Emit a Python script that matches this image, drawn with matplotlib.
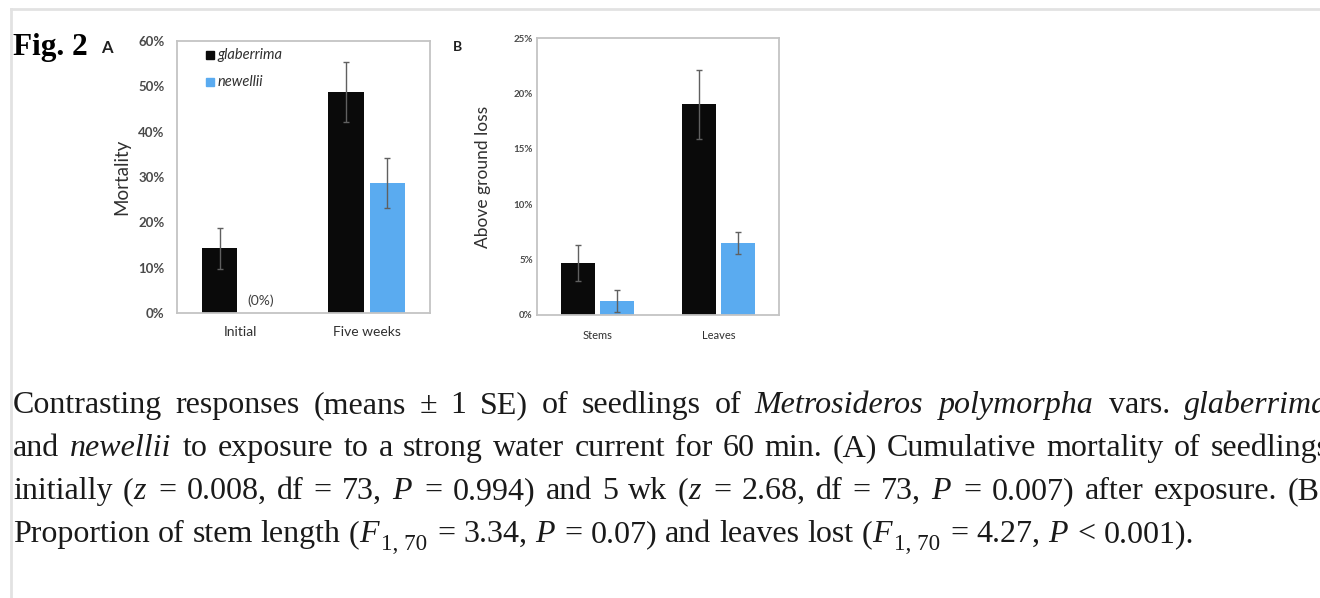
import re
import matplotlib
matplotlib.use("Agg")
import matplotlib.pyplot as plt
from matplotlib.lines import Line2D
from matplotlib.transforms import IdentityTransform
import numpy as np

# panel A: cumulative mortality (%)
mort_cats = ["Initial", "Five weeks"]
mort_glab = [14.3, 48.7]
mort_glab_se = [4.5, 6.6]
mort_new = [0.0, 28.7]
mort_new_se = [0.0, 5.6]
mort_ticks = [0, 10, 20, 30, 40, 50, 60]

# panel B: above ground loss (%)
loss_cats = ["Stems", "Leaves"]
loss_glab = [4.7, 19.0]
loss_glab_se = [1.6, 3.1]
loss_new = [1.3, 6.5]
loss_new_se = [1.0, 0.95]
loss_ticks = [0, 5, 10, 15, 20, 25]

series_names = ["glaberrima", "newellii"]

# caption, *italic*, ~subscript~
caption = [
    "Contrasting responses (means ± 1 SE) of seedlings of *Metrosideros* *polymorpha* vars. *glaberrima*",
    "and *newellii* to exposure to a strong water current for 60 min. (A) Cumulative mortality of seedlings",
    "initially (*z* = 0.008, df = 73, *P* = 0.994) and 5 wk (*z* = 2.68, df = 73, *P* = 0.007) after exposure. (B)",
    "Proportion of stem length (*F*~1,\u00a070~ = 3.34, *P* = 0.07) and leaves lost (*F*~1,\u00a070~ = 4.27, *P* < 0.001).",
]

W, H = 1320, 598
BLACK = "#0a0a0a"
BLUE = "#5aabf0"
SANS = ["Lato", "DejaVu Sans"]
SERIF = ["Liberation Serif", "DejaVu Serif"]

fig = plt.figure(figsize=(W / 100, H / 100), dpi=100)
fig.patch.set_facecolor("white")


def px(x, y, w, h):
    # pixel box (top-left origin) -> figure fraction
    return [x / W, 1 - (y + h) / H, w / W, h / H]


def bar_panel(ax, cats, glab, glab_se, new, new_se, ticks, tsize, csize_, ylabel, lsize, ypad, xpad):
    x = np.arange(len(cats))
    bw, off = 0.28, 0.163
    ax.bar(x - off, glab, bw, color=BLACK, zorder=2)
    ax.bar(x + off, new, bw, color=BLUE, zorder=2)
    ekw = dict(fmt="none", ecolor="#606060", elinewidth=1.0, capsize=2.5, capthick=1.0, zorder=3)
    for xs, v, e in [(x - off, glab, glab_se), (x + off, new, new_se)]:
        keep = [i for i in range(len(v)) if e[i] > 0]
        ax.errorbar(xs[keep], np.array(v)[keep], yerr=np.array(e)[keep], **ekw)
    ax.set_xlim(-0.5, 1.5)
    ax.set_ylim(0, ticks[-1])
    ax.set_yticks(ticks)
    ax.set_yticklabels([f"{t}%" for t in ticks], fontsize=tsize, family=SANS,
                       fontweight="bold", color="#4a4a4a")
    ax.set_xticks(x)
    ax.set_xticklabels(cats, fontsize=csize_, family=SANS, color="#303030")
    ax.tick_params(length=0, axis="y", pad=ypad)
    ax.tick_params(length=0, axis="x", pad=xpad)
    for s in ax.spines.values():
        s.set_color("#c4c4c4")
        s.set_linewidth(1.3)
    ax.set_ylabel(ylabel, fontsize=lsize, family=SANS, color="#303030")


axA = fig.add_axes(px(177, 41, 253, 272))
bar_panel(axA, mort_cats, mort_glab, mort_glab_se, mort_new, mort_new_se,
          mort_ticks, 9.5, 10, "Mortality", 13.5, 9, 9)
axA.yaxis.set_label_coords(-0.186, 0.5)
axA.text(0.163, 2.7, "(0%)", ha="center", va="center", fontsize=10,
         family=SANS, color="#404040")
# legend
for i, (name, c) in enumerate(zip(series_names, [BLACK, BLUE])):
    yy = 0.948 - i * 0.1
    axA.plot([0.13], [yy], marker="s", ms=6, color=c, transform=axA.transAxes, clip_on=False)
    axA.text(0.16, yy, name, transform=axA.transAxes, fontsize=10.5, style="italic",
             family=SANS, color="#303030", va="center", ha="left")

axB = fig.add_axes(px(537, 38, 242, 277))
bar_panel(axB, loss_cats, loss_glab, loss_glab_se, loss_new, loss_new_se,
          loss_ticks, 7, 8, "Above ground loss", 12.5, 3, 11)
axB.yaxis.set_label_coords(-0.19, 0.5)

fig.text(107 / W, 1 - 48 / H, "A", fontsize=12, fontweight="bold", family=SANS,
         ha="center", va="center", color="#202020")
fig.text(457 / W, 1 - 47 / H, "B", fontsize=10, fontweight="bold", family=SANS,
         ha="center", va="center", color="#202020")
fig.text(13 / W, 1 - 55 / H, "Fig. 2", fontsize=22.5, fontweight="bold", family=SERIF,
         ha="left", va="baseline", color="black")

# page frame lines
fig.add_artist(Line2D([11 / W, 1], [1 - 9 / H, 1 - 9 / H], color="#e2e2e2", lw=2))
fig.add_artist(Line2D([11 / W, 11 / W], [0, 1 - 9 / H], color="#e2e2e2", lw=2))

# caption, justified like the source page
csize = 23
cpx = csize * 100 / 72
renderer = fig.canvas.get_renderer()
ident = IdentityTransform()


def parse_word(word):
    segs = []
    for part in re.split(r"(\*[^*]+\*|~[^~]+~)", word):
        if not part:
            continue
        if part.startswith("*"):
            segs.append((part[1:-1], "i"))
        elif part.startswith("~"):
            segs.append((part[1:-1], "sub"))
        else:
            segs.append((part, "r"))
    return segs


def make_word(segs, baseline):
    arts = []
    for txt, st in segs:
        kw = dict(family=SERIF, color="#1a1a1a", va="baseline", ha="left", transform=ident)
        if st == "sub":
            t = fig.text(0, baseline - 0.26 * cpx, txt, fontsize=csize * 0.72, **kw)
            w = t.get_window_extent(renderer).width + 2
        else:
            t = fig.text(0, baseline, txt, fontsize=csize,
                         style="italic" if st == "i" else "normal", **kw)
            w = t.get_window_extent(renderer).width
            if st == "i":
                w += 2
        arts.append((t, w))
    return arts


x_left = 13
right_edge = 1330
space = 0.25 * cpx
baselines = [413, 456, 499, 542]
for li, line in enumerate(caption):
    yb = H - baselines[li]
    words = [make_word(parse_word(w), yb) for w in line.split(" ")]
    widths = [sum(w for _, w in wd) for wd in words]
    if li < len(caption) - 1:
        gap = (right_edge - x_left - sum(widths)) / (len(words) - 1)
    else:
        gap = space
    xc = x_left
    for wd, ww in zip(words, widths):
        xs = xc
        for t, w in wd:
            t.set_x(xs)
            xs += w
        xc += ww + gap

fig.savefig("out.png", dpi=100, facecolor="white")
